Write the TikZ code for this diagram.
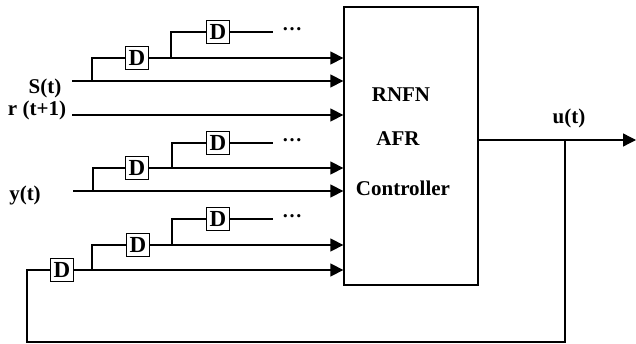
\documentclass[tikz,border=0pt]{standalone}
\usepackage{fontspec}
\setmainfont{Liberation Serif}
\usetikzlibrary{arrows.meta}
\begin{document}
\begin{tikzpicture}[x=1pt,y=-1pt,
  lbl/.style={font=\fontsize{21}{21}\selectfont\bfseries, inner sep=0pt},
  dbox/.style={draw, line width=1.2pt, minimum width=23pt, minimum height=23pt, inner sep=0pt, font=\fontsize{23}{23}\selectfont\bfseries, fill=white},
  wire/.style={line width=1.3pt},
  arr/.style={wire, -{Triangle[length=13pt,width=13pt]}},
  dots/.style={font=\fontsize{20}{20}\selectfont\bfseries, inner sep=0pt, anchor=base west}
]
\useasboundingbox (0,0) rectangle (636,344);
% controller
\node (ctrl) [draw, line width=1.3pt, minimum width=134pt, minimum height=278pt, inner sep=0pt] at (411,146) {};
\node (t1) [lbl] at (401,95) {RNFN};
\node (t2) [lbl] at (398,139) {AFR};
\node (t3) [lbl] at (403,188) {Controller};
% input labels
\node (ls) [lbl] at (45,88) {S(t)};
\node (lr) [lbl] at (37,110) {r (t+1)};
\node (ly) [lbl] at (25,195) {y(t)};
\node (lu) [lbl] at (569,118) {u(t)};
% delay boxes
\node (a1) [dbox] at (137,58) {D};
\node (a2) [dbox] at (218,32) {D};
\node (b1) [dbox] at (137,168) {D};
\node (b2) [dbox] at (218,143) {D};
\node (c0) [dbox] at (62,270) {D};
\node (c1) [dbox] at (138,245) {D};
\node (c2) [dbox] at (218,219) {D};
% coordinates
\coordinate (s0) at (72,81);
\coordinate (r0) at (72,115);
\coordinate (y0) at (73,191);
\coordinate (sa) at (92,81);
\coordinate (sb) at (171,58);
\coordinate (ya) at (93,191);
\coordinate (yb) at (172,168);
\coordinate (ca) at (92,270);
\coordinate (cb) at (172,245);
\coordinate (ae) at (273,32);
\coordinate (be) at (273,143);
\coordinate (ce) at (273,219);
\coordinate (uo) at (478,140);
\coordinate (uend) at (636,140);
\coordinate (j) at (565,140);
\coordinate (f1) at (565,342);
\coordinate (f2) at (27,342);
\coordinate (f3) at (27,270);
% group 1
\draw[arr] (s0) -- (s0 -| ctrl.west);
\draw[arr] (r0) -- (r0 -| ctrl.west);
\draw[wire] (sa) |- (a1.west);
\draw[arr] (a1.east) -- (a1.east -| ctrl.west);
\draw[wire] (sb) |- (a2.west);
\draw[wire] (a2.east) -- (ae);
\node (d1) [dots] at (282,31) {…};
% group 2
\draw[arr] (y0) -- (y0 -| ctrl.west);
\draw[wire] (ya) |- (b1.west);
\draw[arr] (b1.east) -- (b1.east -| ctrl.west);
\draw[wire] (yb) |- (b2.west);
\draw[wire] (b2.east) -- (be);
\node (d2) [dots] at (282,142) {…};
% group 3
\draw[arr] (c0.east) -- (c0.east -| ctrl.west);
\draw[wire] (ca) |- (c1.west);
\draw[arr] (c1.east) -- (c1.east -| ctrl.west);
\draw[wire] (cb) |- (c2.west);
\draw[wire] (c2.east) -- (ce);
\node (d3) [dots] at (282,218) {…};
% output and feedback
\draw[arr] (uo) -- (uend);
\draw[wire] (j) -- (f1) -- (f2) -- (f3) -- (c0.west);
\end{tikzpicture}
\end{document}
